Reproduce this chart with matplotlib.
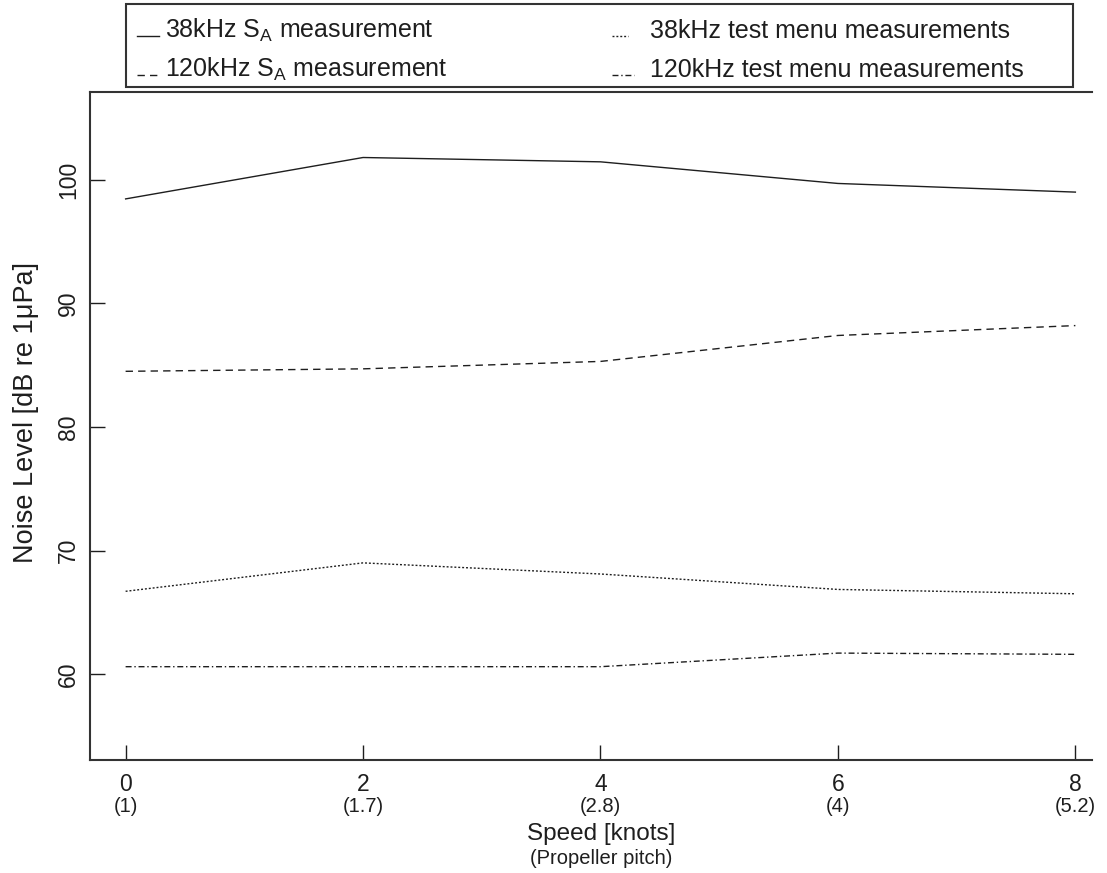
import matplotlib
matplotlib.use("Agg")
import matplotlib.pyplot as plt
from matplotlib.patches import Rectangle

plt.rcParams["font.family"] = ["Liberation Sans", "DejaVu Sans"]
plt.rcParams["mathtext.fontset"] = "custom"
plt.rcParams["mathtext.rm"] = "Liberation Sans"
plt.rcParams["mathtext.it"] = "Liberation Sans:italic"

# Speed (knots) and matching propeller pitch
speed = [0, 2, 4, 6, 8]
pitch_labels = ["(1)", "(1.7)", "(2.8)", "(4)", "(5.2)"]
yticks = [60, 70, 80, 90, 100]

# Noise level, dB re 1 uPa
sa_38 = [98.45, 101.8, 101.45, 99.7, 99.0]
sa_120 = [84.5, 84.7, 85.3, 87.4, 88.2]
menu_38 = [66.7, 69.0, 68.1, 66.85, 66.5]
menu_120 = [60.6, 60.6, 60.6, 61.7, 61.6]

series_labels = [
    "38kHz S$_\\mathrm{A}$ measurement",
    "120kHz S$_\\mathrm{A}$ measurement",
    "38kHz test menu measurements",
    "120kHz test menu measurements",
]

INK = "#1e1e1e"
styles = [
    "-",
    (0, (5.3, 3.7)),
    (0, (1.4, 1.4)),
    (0, (4.3, 2.0, 1.0, 2.0)),
]

W, H = 1107, 873
fig = plt.figure(figsize=(W / 100, H / 100), dpi=100)
ax = fig.add_axes([90 / W, 1 - 760 / H, 1002 / W, 668 / H])

for vals, ls in zip([sa_38, sa_120, menu_38, menu_120], styles):
    ax.plot(speed, vals, color=INK, lw=1.0, linestyle=ls)

ax.set_xlim(-0.30, 8.14)
ax.set_ylim(53.05, 107.1)

for side in ["left", "bottom", "top"]:
    ax.spines[side].set_linewidth(1.5)
    ax.spines[side].set_color("#333333")
ax.spines["right"].set_visible(False)

ax.set_xticks(speed)
ax.set_xticklabels([str(s) for s in speed], fontsize=16.5)
ax.set_yticks(yticks)
ax.set_yticklabels([str(v) for v in yticks], fontsize=16.5, rotation=90, va="center")
ax.tick_params(axis="x", direction="in", length=10.5, width=1.0, pad=9.5, colors=INK)
ax.tick_params(axis="y", direction="in", length=11, width=1.0, pad=7, colors=INK)

# propeller pitch under each speed value
for s, lab in zip(speed, pitch_labels):
    ax.annotate(lab, xy=(s, 0), xycoords=("data", "axes fraction"),
                xytext=(0, -37.4), textcoords="offset points",
                ha="center", va="baseline", fontsize=14.5, color=INK)

ax.annotate("Speed [knots]", xy=(0.51, 0), xycoords="axes fraction",
            xytext=(0, -57.6), textcoords="offset points",
            ha="center", va="baseline", fontsize=17.5, color=INK)
ax.annotate("(Propeller pitch)", xy=(0.51, 0), xycoords="axes fraction",
            xytext=(0, -74.9), textcoords="offset points",
            ha="center", va="baseline", fontsize=14.5, color=INK)

ax.set_ylabel("Noise Level [dB re 1μPa]", fontsize=19.5, color=INK, va="center")
ax.yaxis.set_label_coords(-0.064, 0.52)

# legend box drawn in figure pixel space
lax = fig.add_axes([0, 0, 1, 1], zorder=5)
lax.set_xlim(0, W)
lax.set_ylim(H, 0)
lax.axis("off")
lax.add_patch(Rectangle((126, 4), 947, 83, fill=False, lw=1.5, edgecolor="#333333"))

entries = [
    (137, 159, 165, 38),
    (137, 159, 165, 77),
    (612, 628, 650, 38),
    (612, 634, 650, 77),
]
for (x0, x1, xt, yb), ls, lab in zip(entries, styles, series_labels):
    lax.plot([x0, x1], [yb - 2, yb - 2], color=INK, lw=1.0, linestyle=ls)
    lax.text(xt, yb, lab, fontsize=18, color=INK, ha="left", va="baseline")

fig.savefig("out.png", dpi=100)
